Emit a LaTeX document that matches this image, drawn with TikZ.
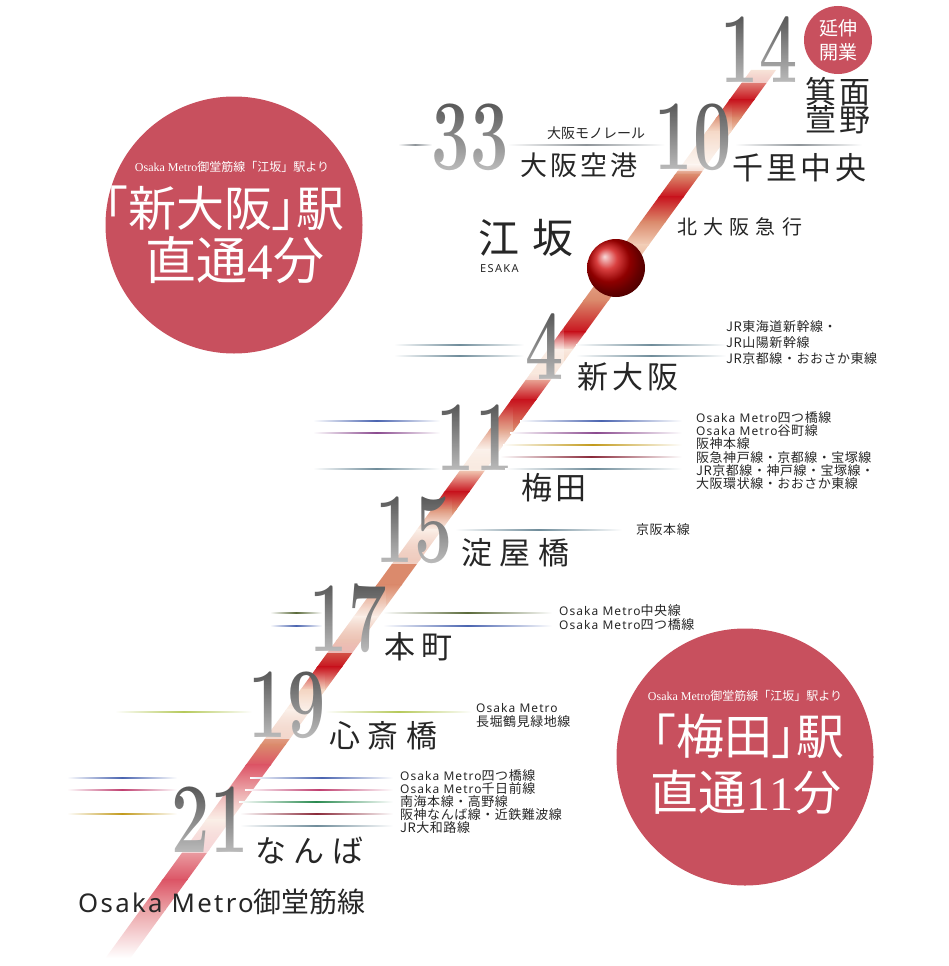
\documentclass[tikz,border=0pt]{standalone}
\usepackage{fontspec}
\usetikzlibrary{fadings}
\newfontfamily\jpfont{Noto Sans CJK JP}
\newfontfamily\titlefont[RawFeature=+palt]{Noto Sans CJK JP}
\newfontfamily\latfont[Scale=0.92,LetterSpace=9]{Noto Sans}
\newfontfamily\serffont{Liberation Serif}
\newcommand{\OM}{{\latfont Osaka Metro}}
\newcommand{\stopfig}[1]{{\bfseries\fontsize{100}{100}\selectfont\scalebox{.68}[1]{#1}}}
\definecolor{circlered}{HTML}{C8505E}
\definecolor{bandred}{HTML}{C8141E}
\definecolor{bandtan}{HTML}{DB8A6C}
\definecolor{bandlight}{HTML}{F2CDB6}
\definecolor{bandmist}{HTML}{F9E8DD}
\definecolor{bandpink}{HTML}{DC5566}
\definecolor{bandrose}{HTML}{EBA2A6}
\definecolor{slate}{HTML}{6F8C9A}
\definecolor{railgray}{HTML}{8E9499}
\definecolor{railblue}{HTML}{4A64B0}
\definecolor{railpurple}{HTML}{8A4A8F}
\definecolor{railgold}{HTML}{C29A1C}
\definecolor{railmaroon}{HTML}{8A2A3A}
\definecolor{railpink}{HTML}{C04070}
\definecolor{railgreen}{HTML}{2A8A50}
\definecolor{railolive}{HTML}{5A6A3A}
\definecolor{raillime}{HTML}{B5C95A}
\definecolor{inkgray}{HTML}{262626}

\begin{document}
\begin{tikzpicture}[x=1pt,y=-1pt,
    track/.style={left color=white,right color=white},
    stopno/.style={inner sep=0pt,text=black!65},
    numwash/.style={fill=white,fill opacity=.6,path fading=north},
    stoplabel/.style 2 args={anchor=west,inner sep=0pt,text=inkgray,
       font=\jpfont\fontsize{#1}{#1}\selectfont\addfontfeature{LetterSpace=#2}},
    linelabel/.style={anchor=west,inner sep=0pt,text=inkgray,
       font=\jpfont\fontsize{13}{13}\selectfont\addfontfeature{LetterSpace=4}},
    bigcircle/.style={circle,fill=circlered,inner sep=0pt,minimum size=257pt},
    circlenote/.style={inner sep=0pt,text=white,font=\jpfont\fontsize{12}{12}\selectfont},
    circletitle/.style={inner sep=0pt,text=white,font=\titlefont\fontsize{48}{48}\selectfont}]
   \useasboundingbox (0,0) rectangle (948,966);
   % round badges
   \node[bigcircle] (shincircle) at (234,225) {};
   \node[bigcircle] (umecircle) at (745,757) {};
   \node[circle,fill=circlered,inner sep=0pt,minimum size=68pt] (badge) at (838,40) {};
   % the line
   \begin{scope}
     \clip (751,70) -- (776,70) -- (130.5,958) -- (105.5,958) -- cycle;
     \foreach \yb/\cb [remember=\yb as \ya (initially 70),remember=\cb as \ca (initially bandlight)] in
        {100/bandred,118/bandtan,132/bandlight,165/bandmist,175/bandtan,197/bandred,
         222/bandtan,245/bandlight,300/bandtan,332/bandred,350/bandmist,374/bandlight,
         400/bandred,430/bandtan,450/bandmist,470/bandlight,492/bandred,510/bandtan,
         530/bandmist,560/bandtan,585/bandtan,617/bandmist,640/bandtan,667/bandred,
         690/bandlight,710/bandmist,745/bandtan,765/bandpink,790/bandrose,820/bandmist,
         850/bandrose,880/bandpink,910/bandrose,958/white}
       \shade[top color=\ca,bottom color=\cb] (100,\ya-0.4) rectangle (800,\yb);
   \end{scope}
   \node[circle,inner sep=0pt,minimum size=58pt,ball color=red!80!black] (esaka) at (616,268) {};
   % station numbers
   \foreach \stop/\xx/\yy in {14/759/50,33/470/137,10/693/137,4/545/347,11/475/438,
       15/414/530,17/348/618,19/287/705,21/210/820} {
     \node[stopno] (n\stop) at (\xx,\yy) {\stopfig{\stop}};
     \fill[numwash] (n\stop.south west) rectangle (n\stop.north east);
   }
   % other lines
   \foreach \xa/\xb/\yy/\trackcol in {398/432/145/railgray,507/665/145/railgray,735/862/145/railgray,
       394/524/345/slate,576/726/345/slate,394/524/356/slate,576/726/356/slate,
       313/440/421/railblue,520/682/421/railblue,313/440/433/railpurple,510/682/433/railpurple,
       503/682/445/railgold,500/682/457/railmaroon,313/440/469/slate,505/682/469/slate,
       455/622/530/slate,
       270/322/613/railolive,383/552/613/railolive,270/322/626/railblue,383/552/626/railblue,
       115/252/712/raillime,325/472/712/raillime,
       67/177/778/railblue,250/393/778/railblue,67/177/790/railpink,245/393/790/railpink,
       239/393/802/railgreen,67/177/814/railgold,240/393/814/railmaroon,240/393/826/slate}
     \shade[track,middle color=\trackcol] (\xa,\yy-0.8) rectangle (\xb,\yy+0.8);
   % station names
   \node[stoplabel={31}{10}] (mino) at (805,92) {箕面};
   \node[stoplabel={31}{10}] (toyono) at (805,120) {萱野};
   \node[stoplabel={27}{12}] (airport) at (520,165) {大阪空港};
   \node[stoplabel={31}{11}] (senri) at (732,168) {千里中央};
   \node[stoplabel={41}{32}] (esakaname) at (478,238) {江坂};
   \node[anchor=west,inner sep=0pt,text=inkgray,font=\latfont\fontsize{12}{12}\selectfont\addfontfeature{LetterSpace=12}] (esakalat) at (480,269) {ESAKA};
   \node[stoplabel={31}{14}] (shinosaka) at (577,377) {新大阪};
   \node[stoplabel={31}{10}] (umeda) at (521,488) {梅田};
   \node[stoplabel={31}{24}] (yodoyabashi) at (461,553) {淀屋橋};
   \node[stoplabel={31}{20}] (honmachi) at (384,647) {本町};
   \node[stoplabel={31}{24}] (shinsaibashi) at (329,736) {心斎橋};
   \node[stoplabel={31}{24}] (namba) at (255,851) {なんば};
   \node[anchor=west,inner sep=0pt,text=inkgray,font=\jpfont\fontsize{28}{28}\selectfont] (midosuji) at (78,902) {\OM 御堂筋線};
   \node[anchor=west,inner sep=0pt,text=inkgray,font=\jpfont\fontsize{20}{20}\selectfont\addfontfeature{LetterSpace=31}] (kitakyu) at (677,227) {北大阪急行};
   \node[inner sep=0pt,text=inkgray,font=\jpfont\fontsize{14}{14}\selectfont] (monorail) at (596,133) {大阪モノレール};
   % line names
   \foreach \i/\xx/\yy/\linename in {a/726/327/JR東海道新幹線・,b/726/343/JR山陽新幹線,c/726/359/JR京都線・おおさか東線,
       d/696/418/\OM 四つ橋線,e/696/431/\OM 谷町線,f/696/444/阪神本線,g/696/458/阪急神戸線・京都線・宝塚線,
       h/696/471/JR京都線・神戸線・宝塚線・,j/696/484/大阪環状線・おおさか東線,
       k/636/530/京阪本線,l/559/611/\OM 中央線,m/559/625/\OM 四つ橋線,
       n/476/708/\OM,o/476/722/長堀鶴見緑地線,
       p/400/775.5/\OM 四つ橋線,q/400/788.5/\OM 千日前線,r/400/802/南海本線・高野線,
       s/400/815/阪神なんば線・近鉄難波線,t/400/828/JR大和路線}
     \node[linelabel] (line\i) at (\xx,\yy) {\linename};
   % badge texts
   \node[inner sep=0pt,text=white,align=center,font=\jpfont\fontsize{19}{24}\selectfont] (badgetext) at (badge) {延伸\\開業};
   \node[circlenote] (shinnote) at (232,167) {{\serffont Osaka Metro}御堂筋線「江坂」駅より};
   \node[circletitle] (shintitle) at (224,208) {「新大阪」駅};
   \node[circletitle,font=\titlefont\fontsize{51}{51}\selectfont] (shintime) at (235,260) {直通{\serffont 4}分};
   \node[circlenote] (umenote) at (745,696) {{\serffont Osaka Metro}御堂筋線「江坂」駅より};
   \node[circletitle] (umetitle) at (748,736) {「梅田」駅};
   \node[circletitle] (umetime) at (746,792) {直通{\serffont 11}分};
\end{tikzpicture}
\end{document}
